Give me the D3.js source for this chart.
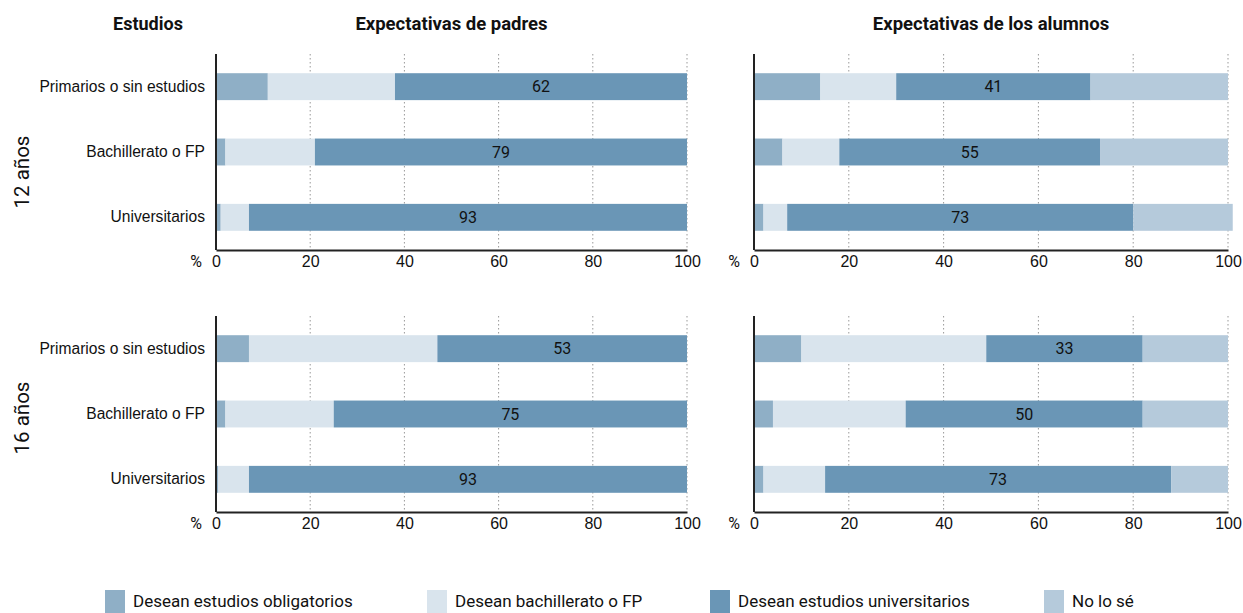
<!DOCTYPE html>
<html><head><meta charset="utf-8">
<script src="https://cdn.jsdelivr.net/npm/d3@7"></script>
<style>
body{margin:0;background:#fff;}
svg{font-family:Roboto,"Liberation Sans",sans-serif;}
</style></head>
<body>
<svg id="c" width="1243" height="613"></svg>
<script>
// ---- data ----
const categories = ["Primarios o sin estudios", "Bachillerato o FP", "Universitarios"];
const seriesNames = ["Desean estudios obligatorios", "Desean bachillerato o FP", "Desean estudios universitarios", "No lo sé"];
const seriesColors = ["#8fafc6", "#d9e4ed", "#6a96b6", "#b5cadb"];
const ticks = [0, 20, 40, 60, 80, 100];
const ageLabels = ["12 años", "16 años"];
const panelTitles = ["Expectativas de padres", "Expectativas de los alumnos"];
// rows = categories, columns = series
const padres12  = [[11, 27, 62, 0], [2, 19, 79, 0], [1, 6, 93, 0]];
const alumnos12 = [[14, 16, 41, 29], [6, 12, 55, 27], [2, 5, 73, 21]];
const padres16  = [[7, 40, 53, 0], [2, 23, 75, 0], [0.5, 6.5, 93, 0]];
const alumnos16 = [[10, 39, 33, 18], [4, 28, 50, 18], [2, 13, 73, 12]];

const svg = d3.select("#c");
const xRanges = [[216, 687], [754, 1228]];
const yRanges = [[54, 250], [316, 512]];
const ageLabelY = [172, 418];
const panels = [
  {data: padres12, col: 0, row: 0},
  {data: alumnos12, col: 1, row: 0},
  {data: padres16, col: 0, row: 1},
  {data: alumnos16, col: 1, row: 1}
];

// headers
svg.append("text").attr("x", 148).attr("y", 30).attr("text-anchor", "middle")
  .attr("font-weight", "bold").attr("font-size", 18).attr("fill", "#111").text("Estudios");
panelTitles.forEach((t, i) => {
  svg.append("text").attr("x", (xRanges[i][0] + xRanges[i][1]) / 2).attr("y", 30)
    .attr("text-anchor", "middle").attr("font-weight", "bold").attr("font-size", 18.5)
    .attr("fill", "#111").text(t);
});
ageLabels.forEach((t, i) => {
  svg.append("text").attr("transform", `translate(29,${ageLabelY[i]}) rotate(-90)`)
    .attr("text-anchor", "middle").attr("font-size", 20.5).attr("fill", "#111").text(t);
});

panels.forEach(p => {
  const x = d3.scaleLinear().domain([0, 100]).range(xRanges[p.col]);
  const y = d3.scaleBand().domain(categories).range(yRanges[p.row])
    .paddingInner(0.588).paddingOuter(0.294);
  const g = svg.append("g");
  const [y0, y1] = yRanges[p.row];

  // grid
  g.selectAll("line.grid").data(ticks.slice(1)).join("line")
    .attr("x1", d => x(d)).attr("x2", d => x(d)).attr("y1", y0).attr("y2", y1)
    .attr("stroke", "#999").attr("stroke-width", 1).attr("stroke-dasharray", "1.5,2.5");

  // bars
  categories.forEach((cat, ci) => {
    const vals = p.data[ci];
    let acc = 0;
    vals.forEach((v, si) => {
      if (v > 0) {
        g.append("rect").attr("x", x(acc)).attr("width", x(acc + v) - x(acc))
          .attr("y", y(cat)).attr("height", y.bandwidth()).attr("fill", seriesColors[si]);
      }
      if (si === 2) {
        g.append("text").attr("x", x(acc + v / 2)).attr("y", y(cat) + y.bandwidth() / 2)
          .attr("dy", "0.36em").attr("text-anchor", "middle").attr("font-size", 16)
          .attr("fill", "#111").text(v);
      }
      acc += v;
    });
  });

  // x axis
  const xa = g.append("g").attr("transform", `translate(0,${y1})`)
    .call(d3.axisBottom(x).tickValues(ticks).tickSize(0).tickPadding(6).tickFormat(d3.format("d")));
  xa.select(".domain").attr("stroke", "#222").attr("stroke-width", 2);
  xa.selectAll("text").attr("font-size", 16).attr("fill", "#111").attr("font-family", null);
  g.append("text").attr("x", x(0) - 20).attr("y", y1 + 6).attr("dy", "0.71em")
    .attr("text-anchor", "middle").attr("font-size", 16).attr("fill", "#111").text("%");

  // y axis
  const ya = g.append("g").attr("transform", `translate(${x(0)},0)`)
    .call(d3.axisLeft(y).tickSize(0).tickPadding(11).tickSizeOuter(0));
  ya.select(".domain").attr("d", `M0,${y0}V${y1}`).attr("stroke", "#222").attr("stroke-width", 2);
  ya.selectAll("text").attr("font-size", 15.6).attr("fill", "#111").attr("font-family", null);
  if (p.col === 1) ya.selectAll(".tick").remove();
});

// legend
const legendX = [105, 427, 710, 1044];
seriesNames.forEach((n, i) => {
  svg.append("rect").attr("x", legendX[i]).attr("y", 590).attr("width", 20).attr("height", 23)
    .attr("fill", seriesColors[i]);
  svg.append("text").attr("x", legendX[i] + 28).attr("y", 607).attr("font-size", 17)
    .attr("fill", "#111").text(n);
});
</script>
</body></html>
